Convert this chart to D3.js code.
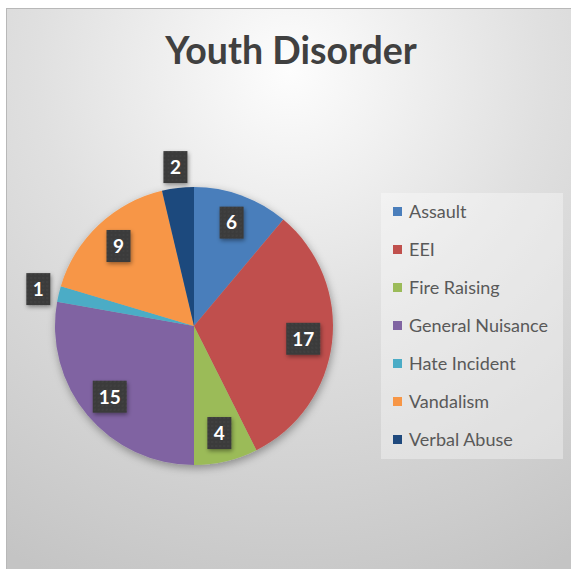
<!DOCTYPE html>
<html><head><meta charset="utf-8">
<script src="https://cdn.jsdelivr.net/npm/d3@7"></script>
<style>html,body{margin:0;padding:0;background:#fff;}svg{display:block;}</style>
</head><body>
<script>
const categories = ["Assault","EEI","Fire Raising","General Nuisance","Hate Incident","Vandalism","Verbal Abuse"];
const values = [6,17,4,15,1,9,2];
const colors = ["#4a7ebb","#c0504d","#9bbb59","#8064a2","#4bacc6","#f79646","#1f497d"];
const labelOutside = [false,false,false,false,true,false,true];
const title = "Youth Disorder";

const W = 571, H = 569;
const svg = d3.select("body").append("svg").attr("width", W).attr("height", H);
const defs = svg.append("defs");
const rg = defs.append("radialGradient").attr("id","bg").attr("gradientUnits","userSpaceOnUse")
  .attr("cx",290).attr("cy",70).attr("r",560);
rg.append("stop").attr("offset","0").attr("stop-color","#fdfdfd");
rg.append("stop").attr("offset","0.45").attr("stop-color","#e0e0e0");
rg.append("stop").attr("offset","1").attr("stop-color","#c4c4c4");
const sh = defs.append("filter").attr("id","sh").attr("x","-20%").attr("y","-20%").attr("width","140%").attr("height","150%");
sh.append("feDropShadow").attr("dx",1).attr("dy",3).attr("stdDeviation",4).attr("flood-color","#000").attr("flood-opacity",0.35);
const sh2 = defs.append("filter").attr("id","sh2").attr("x","-50%").attr("y","-50%").attr("width","200%").attr("height","200%");
sh2.append("feDropShadow").attr("dx",1).attr("dy",2).attr("stdDeviation",2).attr("flood-color","#000").attr("flood-opacity",0.4);
const pat = defs.append("pattern").attr("id","dots").attr("patternUnits","userSpaceOnUse").attr("width",4).attr("height",4);
pat.append("rect").attr("width",4).attr("height",4).attr("fill","#3b3b3b");
pat.append("circle").attr("cx",1).attr("cy",1).attr("r",0.7).attr("fill","#4a4a4a");

svg.append("rect").attr("x",6.5).attr("y",8.5).attr("width",W).attr("height",H)
  .attr("fill","url(#bg)").attr("stroke","#b8b8b8").attr("stroke-width",1);

svg.append("text").attr("x",291).attr("y",64).attr("text-anchor","middle")
  .attr("font-family","Lato, 'Open Sans', sans-serif").attr("font-weight","bold")
  .attr("font-size",37.5).attr("fill","#404040").text(title);

const cx = 194, cy = 326, R = 139;
const pie = d3.pie().sort(null).value(d => d)(values);
const arc = d3.arc().innerRadius(0).outerRadius(R);
const g = svg.append("g").attr("transform",`translate(${cx},${cy})`);
g.append("g").attr("filter","url(#sh)").selectAll("path").data(pie).join("path")
  .attr("d",arc).attr("fill",(d,i)=>colors[i]);

const inArc = d3.arc().innerRadius(110).outerRadius(110);
const outArc = d3.arc().innerRadius(160).outerRadius(160);
const lg = g.selectAll("g.lab").data(pie).join("g").attr("class","lab")
  .attr("transform",(d,i)=>{const c=(labelOutside[i]?outArc:inArc).centroid(d);return `translate(${c[0]},${c[1]})`;});
lg.append("rect").attr("x",(d)=>-(String(d.data).length*10+14)/2).attr("y",-16)
  .attr("width",d=>String(d.data).length*10+14).attr("height",32)
  .attr("fill","url(#dots)").attr("filter","url(#sh2)");
lg.append("text").attr("text-anchor","middle").attr("dy","0.36em")
  .attr("font-family","Lato, 'Open Sans', sans-serif").attr("font-weight","bold")
  .attr("font-size",19).attr("fill","#fff").text(d=>d.data);

// legend
const ly = d3.scalePoint().domain(categories).range([212,440]);
svg.append("rect").attr("x",381).attr("y",193).attr("width",182).attr("height",266)
  .attr("fill","#ffffff").attr("fill-opacity",0.35);
const li = svg.selectAll("g.leg").data(categories).join("g").attr("class","leg")
  .attr("transform",d=>`translate(393,${ly(d)})`);
li.append("rect").attr("x",0).attr("y",-5).attr("width",9).attr("height",9).attr("fill",(d,i)=>colors[i]);
li.append("text").attr("x",16).attr("y",0).attr("dy","0.35em")
  .attr("font-family","Lato, 'Open Sans', sans-serif").attr("font-size",18)
  .attr("fill","#595959").text(d=>d);
</script>
</body></html>
